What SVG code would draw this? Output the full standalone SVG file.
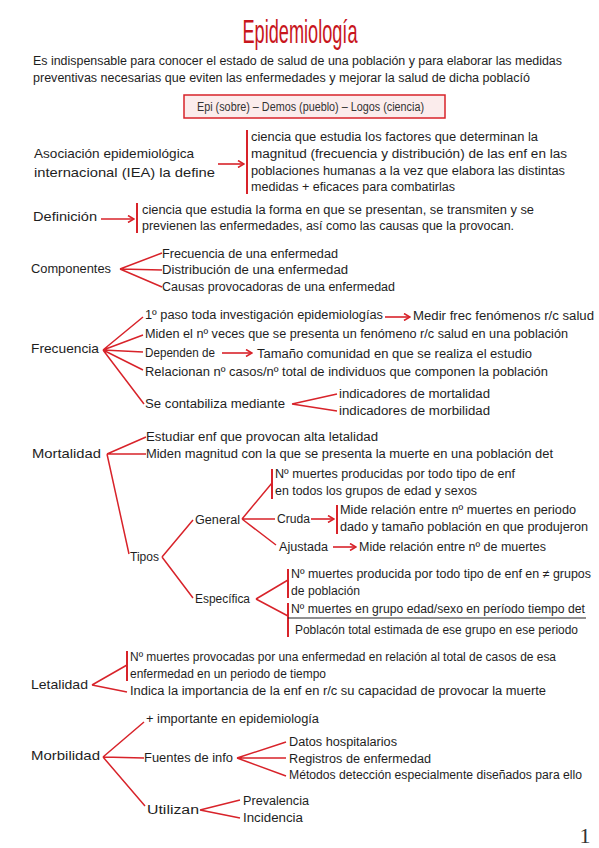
<svg xmlns="http://www.w3.org/2000/svg" width="599" height="848" viewBox="0 0 599 848">
<defs>
<style>
.t{font-family:"Liberation Sans","DejaVu Sans",sans-serif;font-size:12px;fill:#1e1e1e}
.h{font-family:"Liberation Sans","DejaVu Sans",sans-serif;font-size:13px;fill:#1e1e1e}
.c{stroke:#d8232a;stroke-width:1.5;fill:none}
.bar{stroke:#d8232a;stroke-width:2;fill:none}
.ar{stroke:#d8232a;stroke-width:1.6;fill:none}
</style>
<marker id="ah" markerWidth="8" markerHeight="8" refX="7" refY="4" orient="auto" markerUnits="userSpaceOnUse">
<path d="M1,0.5 L7,4 L1,7.5" stroke="#d8232a" stroke-width="1.6" fill="none"/>
</marker>
</defs>
<rect width="599" height="848" fill="#ffffff"/>

<g id="title">
<text x="300" y="43" text-anchor="middle" font-family="Liberation Sans, sans-serif" font-size="33" fill="#c8161d" textLength="115" lengthAdjust="spacingAndGlyphs">Epidemiología</text>
</g>
<g id="intro">
<text class="t" x="33" y="65" textLength="529" lengthAdjust="spacingAndGlyphs">Es indispensable para conocer el estado de salud de una población y para elaborar las medidas</text>
<text class="t" x="33" y="82" textLength="497" lengthAdjust="spacingAndGlyphs">preventivas necesarias que eviten las enfermedades y mejorar la salud de dicha poblacíó</text>
</g>
<g id="etimologia">
<rect x="184" y="95" width="261" height="23" fill="#fbecec" stroke="#d8232a" stroke-width="1.5"/>
<text x="197" y="111" font-family="Liberation Sans, sans-serif" font-size="12" fill="#333" textLength="227" lengthAdjust="spacingAndGlyphs">Epi (sobre) – Demos (pueblo) – Logos (ciencia)</text>
</g>

<g id="connectors">
<line class="ar" x1="218" y1="164" x2="244" y2="164" marker-end="url(#ah)"/>
<line class="bar" x1="247" y1="130" x2="247" y2="194"/>
<line class="ar" x1="101" y1="219" x2="134" y2="219" marker-end="url(#ah)"/>
<line class="bar" x1="137" y1="203" x2="137" y2="233"/>
<path class="c" d="M120,269 L162,253 M120,269 L162,270 M120,269 L162,287"/>
<path class="c" d="M103,350 L143,317 M103,350 L143,335 M103,350 L143,352 M103,350 L143,370 M103,350 L144,404"/>
<line class="ar" x1="385" y1="317" x2="410" y2="317" marker-end="url(#ah)"/>
<line class="ar" x1="222" y1="353" x2="252" y2="353" marker-end="url(#ah)"/>
<path class="c" d="M292,404 L337,394 M292,404 L337,411"/>
<path class="c" d="M107,454 L146,437 M107,454 L146,454 M107,454 L129,554"/>
<path class="c" d="M162,557 L193,520 M162,557 L193,598"/>
<path class="c" d="M242,519 L272,483 M242,519 L275,519 M242,519 L276,545"/>
<line class="bar" x1="272" y1="469" x2="272" y2="499"/>
<line class="ar" x1="311" y1="519" x2="334" y2="519" marker-end="url(#ah)"/>
<line class="bar" x1="337" y1="505" x2="337" y2="534"/>
<line class="ar" x1="333" y1="547" x2="356" y2="547" marker-end="url(#ah)"/>
<path class="c" d="M256,599 L288,580 M256,599 L288,616"/>
<line class="bar" x1="288" y1="569" x2="288" y2="598"/>
<line class="bar" x1="288" y1="603" x2="288" y2="637"/>
<line x1="288" y1="618" x2="586" y2="618" stroke="#222" stroke-width="1.2"/>
<path class="c" d="M92,685 L127,665 M92,685 L127,692"/>
<line class="bar" x1="127" y1="651" x2="127" y2="681"/>
<path class="c" d="M103,757 L144,722 M103,757 L144,758 M103,757 L145,806"/>
<path class="c" d="M237,758 L286,742 M237,758 L286,758 M237,758 L286,776"/>
<path class="c" d="M200,810 L240,800 M200,810 L240,818"/>
</g>

<g id="iea">
<text class="h" x="34" y="158" textLength="160" lengthAdjust="spacingAndGlyphs">Asociación epidemiológica</text>
<text class="h" x="34" y="177" textLength="181" lengthAdjust="spacingAndGlyphs">internacional (IEA) la define</text>
</g>
<g id="iea-def">
<text class="t" x="251" y="141" textLength="287" lengthAdjust="spacingAndGlyphs">ciencia que estudia los factores que determinan la</text>
<text class="t" x="251" y="158" textLength="316" lengthAdjust="spacingAndGlyphs">magnitud (frecuencia y distribución) de las enf en las</text>
<text class="t" x="251" y="175" textLength="314" lengthAdjust="spacingAndGlyphs">poblaciones humanas a la vez que elabora las distintas</text>
<text class="t" x="251" y="191" textLength="204" lengthAdjust="spacingAndGlyphs">medidas + eficaces para combatirlas</text>
</g>

<g id="definicion">
<text class="h" x="33" y="221" textLength="64" lengthAdjust="spacingAndGlyphs">Definición</text>
</g>
<g id="definicion-texto">
<text class="t" x="142" y="214" textLength="392" lengthAdjust="spacingAndGlyphs">ciencia que estudia la forma en que se presentan, se transmiten y se</text>
<text class="t" x="142" y="230" textLength="372" lengthAdjust="spacingAndGlyphs">previenen las enfermedades, así como las causas que la provocan.</text>
</g>

<g id="componentes">
<text class="h" x="31" y="273" textLength="80" lengthAdjust="spacingAndGlyphs">Componentes</text>
</g>
<g id="componentes-items">
<text class="t" x="162" y="258" textLength="176" lengthAdjust="spacingAndGlyphs">Frecuencia de una enfermedad</text>
<text class="t" x="162" y="274" textLength="186" lengthAdjust="spacingAndGlyphs">Distribución de una enfermedad</text>
<text class="t" x="162" y="291" textLength="233" lengthAdjust="spacingAndGlyphs">Causas provocadoras de una enfermedad</text>
</g>

<g id="frecuencia">
<text class="h" x="31" y="353" textLength="68" lengthAdjust="spacingAndGlyphs">Frecuencia</text>
</g>
<g id="frecuencia-items">
<text class="t" x="145" y="319" textLength="238" lengthAdjust="spacingAndGlyphs">1º paso toda investigación epidemiologías</text>
<text class="t" x="413" y="320" textLength="181" lengthAdjust="spacingAndGlyphs">Medir frec fenómenos r/c salud</text>
<text class="t" x="145" y="338" textLength="423" lengthAdjust="spacingAndGlyphs">Miden el nº veces que se presenta un fenómeno r/c salud en una población</text>
<text class="t" x="145" y="357" textLength="70" lengthAdjust="spacingAndGlyphs">Dependen de</text>
<text class="t" x="257" y="358" textLength="275" lengthAdjust="spacingAndGlyphs">Tamaño comunidad en que se realiza el estudio</text>
<text class="t" x="145" y="376" textLength="403" lengthAdjust="spacingAndGlyphs">Relacionan nº casos/nº total de individuos que componen la población</text>
<text class="t" x="145" y="408" textLength="140" lengthAdjust="spacingAndGlyphs">Se contabiliza mediante</text>
<text class="t" x="339" y="398" textLength="151" lengthAdjust="spacingAndGlyphs">indicadores de mortalidad</text>
<text class="t" x="339" y="415" textLength="151" lengthAdjust="spacingAndGlyphs">indicadores de morbilidad</text>
</g>

<g id="mortalidad">
<text class="h" x="32" y="458" textLength="69" lengthAdjust="spacingAndGlyphs">Mortalidad</text>
</g>
<g id="mortalidad-items">
<text class="t" x="146" y="441" textLength="232" lengthAdjust="spacingAndGlyphs">Estudiar enf que provocan alta letalidad</text>
<text class="t" x="146" y="458" textLength="407" lengthAdjust="spacingAndGlyphs">Miden magnitud con la que se presenta la muerte en una población det</text>
</g>
<g id="tipos">
<text class="t" x="130" y="561" textLength="29" lengthAdjust="spacingAndGlyphs">Tipos</text>
</g>
<g id="general">
<text class="t" x="195" y="524" textLength="45" lengthAdjust="spacingAndGlyphs">General</text>
<text class="t" x="275" y="478" textLength="240" lengthAdjust="spacingAndGlyphs">Nº muertes producidas por todo tipo de enf</text>
<text class="t" x="275" y="495" textLength="202" lengthAdjust="spacingAndGlyphs">en todos los grupos de edad y sexos</text>
</g>
<g id="cruda">
<text class="t" x="277" y="523" textLength="33" lengthAdjust="spacingAndGlyphs">Cruda</text>
<text class="t" x="340" y="514" textLength="236" lengthAdjust="spacingAndGlyphs">Mide relación entre nº muertes en periodo</text>
<text class="t" x="340" y="531" textLength="248" lengthAdjust="spacingAndGlyphs">dado y tamaño población en que produjeron</text>
</g>
<g id="ajustada">
<text class="t" x="279" y="551" textLength="49" lengthAdjust="spacingAndGlyphs">Ajustada</text>
<text class="t" x="359" y="551" textLength="187" lengthAdjust="spacingAndGlyphs">Mide relación entre nº de muertes</text>
</g>
<g id="especifica">
<text class="t" x="195" y="603" textLength="55" lengthAdjust="spacingAndGlyphs">Específica</text>
<text class="t" x="291" y="578" textLength="300" lengthAdjust="spacingAndGlyphs">Nº muertes producida por todo tipo de enf en ≠ grupos</text>
<text class="t" x="291" y="595" textLength="69" lengthAdjust="spacingAndGlyphs">de población</text>
<text class="t" x="291" y="613" textLength="294" lengthAdjust="spacingAndGlyphs">Nº muertes en grupo edad/sexo en período tiempo det</text>
<text class="t" x="295" y="634" textLength="283" lengthAdjust="spacingAndGlyphs">Poblacón total estimada de ese grupo en ese periodo</text>
</g>

<g id="letalidad">
<text class="h" x="31" y="689" textLength="57" lengthAdjust="spacingAndGlyphs">Letalidad</text>
</g>
<g id="letalidad-items">
<text class="t" x="130" y="661" textLength="426" lengthAdjust="spacingAndGlyphs">Nº muertes provocadas por una enfermedad en relación al total de casos de esa</text>
<text class="t" x="130" y="678" textLength="196" lengthAdjust="spacingAndGlyphs">enfermedad en un periodo de tiempo</text>
<text class="t" x="130" y="695" textLength="416" lengthAdjust="spacingAndGlyphs">Indica la importancia de la enf en r/c su capacidad de provocar la muerte</text>
</g>

<g id="morbilidad">
<text class="h" x="31" y="760" textLength="69" lengthAdjust="spacingAndGlyphs">Morbilidad</text>
</g>
<g id="morbilidad-items">
<text class="t" x="146" y="723" textLength="173" lengthAdjust="spacingAndGlyphs">+ importante en epidemiología</text>
</g>
<g id="fuentes">
<text class="t" x="144" y="762" textLength="89" lengthAdjust="spacingAndGlyphs">Fuentes de info</text>
<text class="t" x="289" y="746" textLength="108" lengthAdjust="spacingAndGlyphs">Datos hospitalarios</text>
<text class="t" x="289" y="763" textLength="142" lengthAdjust="spacingAndGlyphs">Registros de enfermedad</text>
<text class="t" x="289" y="779" textLength="293" lengthAdjust="spacingAndGlyphs">Métodos detección especialmente diseñados para ello</text>
</g>
<g id="utilizan">
<text class="t" x="147" y="814" textLength="52" lengthAdjust="spacingAndGlyphs">Utilizan</text>
<text class="t" x="243" y="805" textLength="66" lengthAdjust="spacingAndGlyphs">Prevalencia</text>
<text class="t" x="243" y="822" textLength="60" lengthAdjust="spacingAndGlyphs">Incidencia</text>
</g>

<g id="pagina">
<text x="585" y="843" text-anchor="middle" font-family="Liberation Serif, serif" font-size="22" fill="#333">1</text>
</g>
</svg>
